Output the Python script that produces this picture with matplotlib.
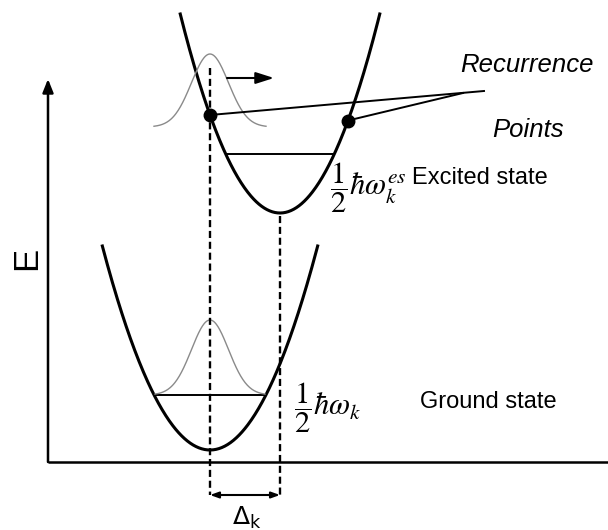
import numpy as np
import matplotlib.pyplot as plt
from matplotlib.patches import FancyArrowPatch

plt.rcParams['font.family'] = ['Liberation Sans', 'DejaVu Sans']

# canvas units are pixels, y grows downward
W, H = 608, 530

# energy axes: origin, top of the E axis
axis_origin = (48, 462)
axis_top = 79

# harmonic wells: centre x, minimum y, curvature, top y of the drawn arms
ground_well = dict(x0=210, y0=450, k=0.0176, top=246)
excited_well = dict(x0=280, y0=213, k=0.0200, top=14)

# zero-point levels (y) drawn as horizontal lines inside each well
ground_level = 395
excited_level = 154

# gaussian wave packets: centre, baseline, height, sigma, half span
packet_x = 210
ground_packet = dict(base=395, height=75, sigma=18.5, span=55)
excited_packet = dict(base=127, height=73, sigma=18.5, span=56)

# recurrence points sit on the excited well at these x positions
recurrence_x = [210, 348]
recurrence_targets = [(484, 91), (463, 93)]

# displacement markers
dash_top = [68, excited_well['y0'] + 3]
dash_bottom = 495


def well_curve(w):
    half = np.sqrt((w['y0'] - w['top']) / w['k'])
    x = np.linspace(w['x0'] - half, w['x0'] + half, 300)
    return x, w['y0'] - w['k'] * (x - w['x0']) ** 2


def well_y(w, x):
    return w['y0'] - w['k'] * (x - w['x0']) ** 2


def packet_curve(p):
    x = np.linspace(packet_x - p['span'], packet_x + p['span'], 200)
    return x, p['base'] - p['height'] * np.exp(-0.5 * ((x - packet_x) / p['sigma']) ** 2)


def level_ends(w, y):
    half = np.sqrt((w['y0'] - y) / w['k'])
    return [w['x0'] - half, w['x0'] + half]


fig = plt.figure(figsize=(W / 100, H / 100), dpi=100)
ax = fig.add_axes([0, 0, 1, 1])
ax.set_xlim(0, W)
ax.set_ylim(H, 0)
ax.axis('off')

# axes of the energy diagram
ox, oy = axis_origin
ax.plot([ox, W], [oy, oy], color='black', lw=1.8, solid_capstyle='butt')
ax.add_patch(FancyArrowPatch((ox, oy), (ox, axis_top), arrowstyle='-|>,head_length=8,head_width=3.2',
                             lw=1.8, color='black', mutation_scale=1, shrinkA=0, shrinkB=0))
ax.text(27, 258, 'E', rotation=90, fontsize=25, ha='center', va='center')

# wells
for w in (ground_well, excited_well):
    x, y = well_curve(w)
    ax.plot(x, y, color='black', lw=2.2)

# zero-point levels
ax.plot(level_ends(ground_well, ground_level), [ground_level] * 2, color='black', lw=1.4)
ax.plot(level_ends(excited_well, excited_level), [excited_level] * 2, color='black', lw=1.4)

# wave packets
for p in (ground_packet, excited_packet):
    x, y = packet_curve(p)
    ax.plot(x, y, color='#8a8a8a', lw=1.0)

# packet motion arrow
ax.annotate('', xy=(274, 78), xytext=(227, 78),
            arrowprops=dict(arrowstyle='-|>,head_length=1.1,head_width=0.35', lw=1.5, color='black',
                            shrinkA=0, shrinkB=0))

# vertical dashed lines marking the two well centres
for xd, yt in zip([packet_x, excited_well['x0']], dash_top):
    ax.plot([xd, xd], [yt, dash_bottom], color='black', lw=1.7, linestyle=(0, (3.0, 1.6)))

# displacement arrow
ax.annotate('', xy=(excited_well['x0'], dash_bottom), xytext=(packet_x, dash_bottom),
            arrowprops=dict(arrowstyle='<|-|>,head_length=0.5,head_width=0.18', lw=1.5, color='black',
                            shrinkA=0, shrinkB=0))
ax.text(247, 518, r'$\Delta_{\mathrm{k}}$', fontsize=18, ha='center', va='center')

# recurrence points and the leader lines
for xr, (tx, ty) in zip(recurrence_x, recurrence_targets):
    yr = well_y(excited_well, xr)
    ax.plot([xr, tx], [yr, ty], color='black', lw=1.4)
    ax.plot(xr, yr, 'o', color='black', ms=9)

ax.text(460, 65, 'Recurrence', fontsize=18.5, style='italic', ha='left', va='center')
ax.text(492, 130, 'Points', fontsize=18.5, style='italic', ha='left', va='center')

# zero-point energy labels
ax.text(330, 188, r'$\dfrac{1}{2}\hbar\omega_k^{es}$', fontsize=22, math_fontfamily='stix',
        ha='left', va='center')
ax.text(412, 178, 'Excited state', fontsize=17, ha='left', va='center')
ax.text(294, 408, r'$\dfrac{1}{2}\hbar\omega_k$', fontsize=22, math_fontfamily='stix',
        ha='left', va='center')
ax.text(420, 402, 'Ground state', fontsize=17, ha='left', va='center')

fig.savefig('out.png', dpi=100)
